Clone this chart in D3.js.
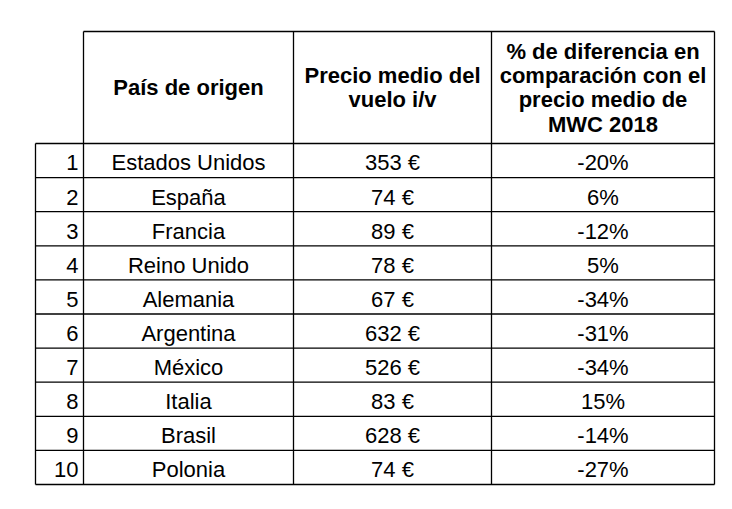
<!DOCTYPE html><html><head><meta charset="utf-8"><script src="https://d3js.org/d3.v7.min.js"></script>
<style>body{margin:0;background:#fff}</style></head><body><svg id="c" width="732" height="509"></svg>
<script>
const ranks=[1,2,3,4,5,6,7,8,9,10];
const countries=["Estados Unidos","España","Francia","Reino Unido","Alemania","Argentina","México","Italia","Brasil","Polonia"];
const prices=[353,74,89,78,67,632,526,83,628,74];
const diffs=[-20,6,-12,5,-34,-31,-34,15,-14,-27];
const headers=[[],["País de origen"],["Precio medio del","vuelo i/v"],["% de diferencia en","comparación con el","precio medio de","MWC 2018"]];
const svg=d3.select("#c");
const xs=[35.5,83.5,293.5,491.5,714.5];
const headTop=31.5, headBot=143.5;
const y=d3.scaleBand().domain(ranks).range([headBot,484.5]);
const g=svg.append("g").attr("stroke","#000").attr("stroke-width",1.3);
g.append("line").attr("x1",xs[1]).attr("x2",xs[4]).attr("y1",headTop).attr("y2",headTop);
xs.slice(1).forEach(x=>g.append("line").attr("x1",x).attr("x2",x).attr("y1",headTop).attr("y2",y.range()[1]));
g.append("line").attr("x1",xs[0]).attr("x2",xs[0]).attr("y1",headBot).attr("y2",y.range()[1]);
[headBot,...ranks.map(r=>y(r)+y.bandwidth())].forEach(yy=>g.append("line").attr("x1",xs[0]).attr("x2",xs[4]).attr("y1",yy).attr("y2",yy));
const font="Liberation Sans, Arial, sans-serif";
headers.forEach((lines,i)=>{
  if(!lines.length)return;
  const cx=(xs[i]+xs[i+1])/2, cy=(headTop+headBot)/2, lh=24.3;
  lines.forEach((t,j)=>svg.append("text").attr("x",cx).attr("y",cy+(j-(lines.length-1)/2)*lh).attr("dy","0.35em")
    .attr("text-anchor","middle").attr("font-family",font).attr("font-weight","bold").attr("font-size",22).text(t));
});
ranks.forEach((r,i)=>{
  const cy=y(r)+y.bandwidth()/2+2;
  const add=(x,t,a)=>svg.append("text").attr("x",x).attr("y",cy).attr("dy","0.36em").attr("text-anchor",a)
    .attr("font-family",font).attr("font-size",22).text(t);
  add(xs[1]-5,r,"end");
  add((xs[1]+xs[2])/2,countries[i],"middle");
  add((xs[2]+xs[3])/2,prices[i]+" €","middle");
  add((xs[3]+xs[4])/2,diffs[i]+"%","middle");
});
</script></body></html>
